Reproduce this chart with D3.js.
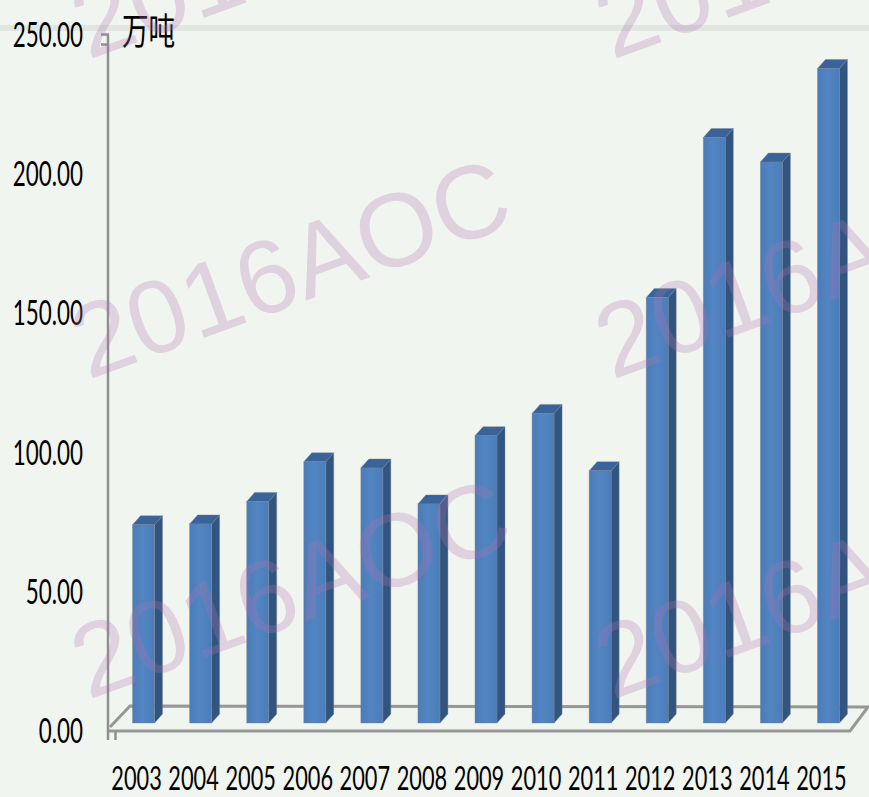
<!DOCTYPE html>
<html><head><meta charset="utf-8">
<script src="https://cdn.jsdelivr.net/npm/d3@7"></script>
<style>html,body{margin:0;padding:0;background:#f1f5f0;}svg{display:block;}</style>
</head><body>
<script>
const years = ["2003","2004","2005","2006","2007","2008","2009","2010","2011","2012","2013","2014","2015"];
const values = [71.2,71.5,79.6,93.8,91.6,78.7,103.2,111.2,90.6,152.8,210.3,201.5,235.1];
const yTicks = [0,50,100,150,200,250];
const unitLabel = "万吨";
const watermarkText = "2016AOC";

const W = 869, H = 797;
const svg = d3.select("body").append("svg").attr("width", W).attr("height", H);
svg.append("rect").attr("width", W).attr("height", H).attr("fill", "#f1f5f0");
svg.append("rect").attr("x",0).attr("y",25).attr("width",W).attr("height",6).attr("fill","#e1e6e1");

const x = d3.scaleBand().domain(years).range([108, 850]).padding(0);
const y = d3.scaleLinear().domain([0, 250]).range([730.5, 34.5]);

// depth constants
const floorDx = 22, floorDy = -25;
const barOffX = 7, barOffY = -7.5;   // bar front plane offset
const barDx = 8, barDy = -9;         // bar depth
const barW = x.bandwidth() * 0.385;

const defs = svg.append("defs");
const g1 = defs.append("linearGradient").attr("id","front").attr("x1","0").attr("x2","1").attr("y1","0").attr("y2","0");
g1.append("stop").attr("offset","0").attr("stop-color","#4a7cba");
g1.append("stop").attr("offset","0.45").attr("stop-color","#5385c2");
g1.append("stop").attr("offset","1").attr("stop-color","#4b7dbb");

// floor
const y0 = y(0) + 0.5;
const xl = x.range()[0], xr = x.range()[1];
svg.append("path")
  .attr("d", `M${xl},${y0}L${xr},${y0}L${xr+floorDx-4},${y0+floorDy+1}L${xl+floorDx},${y0+floorDy}L${xl+2},${y0-4}`)
  .attr("fill","none").attr("stroke","#979797").attr("stroke-width",3).attr("stroke-linejoin","miter");

// y axis line
svg.append("line").attr("x1",108).attr("x2",108).attr("y1",y(250)).attr("y2",740)
  .attr("stroke","#8f8f8f").attr("stroke-width",2.5);
svg.append("line").attr("x1",101).attr("x2",109).attr("y1",y(250)).attr("y2",y(250))
  .attr("stroke","#8f8f8f").attr("stroke-width",2.5);
svg.append("line").attr("x1",101).attr("x2",109).attr("y1",y(250)+10).attr("y2",y(250)+10)
  .attr("stroke","#8f8f8f").attr("stroke-width",2.5);
svg.append("line").attr("x1",115.5).attr("x2",115.5).attr("y1",y0).attr("y2",740)
  .attr("stroke","#8f8f8f").attr("stroke-width",2.5);

// bars
const bars = svg.append("g");
years.forEach((yr, i) => {
  const v = values[i];
  const fx = x(yr) + (x.bandwidth() - barW) / 2 + barOffX;
  const base = y(0) + barOffY;
  const top = base - (y(0) - y(v));
  const gb = bars.append("g");
  gb.append("path").attr("d", `M${fx+barW},${base}L${fx+barW+barDx},${base+barDy}L${fx+barW+barDx},${top+barDy}L${fx+barW},${top}Z`)
    .attr("fill","#31557f").attr("stroke","rgba(120,130,140,0.5)").attr("stroke-width",0.8);
  gb.append("path").attr("d", `M${fx},${top}L${fx+barDx},${top+barDy}L${fx+barW+barDx},${top+barDy}L${fx+barW},${top}Z`)
    .attr("fill","#3a6399").attr("stroke","rgba(120,130,140,0.5)").attr("stroke-width",0.8);
  gb.append("rect").attr("x", fx).attr("y", top).attr("width", barW).attr("height", base - top)
    .attr("fill","url(#front)").attr("stroke","rgba(120,130,140,0.5)").attr("stroke-width",0.8);
});

// labels: condensed via horizontal scaling
const fontF = "Lato, 'Liberation Sans', sans-serif";

svg.append("g").selectAll("text").data(yTicks).join("text")
  .attr("transform", d => `translate(83,${y(d) + 12.5}) scale(0.64,1)`)
  .attr("text-anchor","end")
  .attr("font-family", fontF).attr("font-size", 35).attr("fill","#000")
  .text(d => d.toFixed(2));

svg.append("g").selectAll("text").data(years).join("text")
  .attr("transform", d => `translate(${x(d) + x.bandwidth()/2},790) scale(0.66,1)`)
  .attr("text-anchor","middle")
  .attr("font-family", fontF).attr("font-size", 33).attr("fill","#000")
  .text(d => d);

// unit
svg.append("text").attr("transform","translate(122,45) scale(0.72,1)")
  .attr("font-family","'Noto Sans CJK SC', sans-serif").attr("font-size",37).attr("fill","#000")
  .text(unitLabel);

// watermarks
const wm = svg.append("g").attr("pointer-events","none");
[88, 612].forEach(wx => [60, 380, 700].forEach(wy => {
  wm.append("text").attr("transform", `translate(${wx},${wy}) rotate(-20)`)
    .attr("font-family","'Liberation Sans', Arial, sans-serif").attr("font-size",104)
    .attr("fill","rgb(175,115,175)").attr("fill-opacity",0.28)
    .text(watermarkText);
}));
</script>
</body></html>
